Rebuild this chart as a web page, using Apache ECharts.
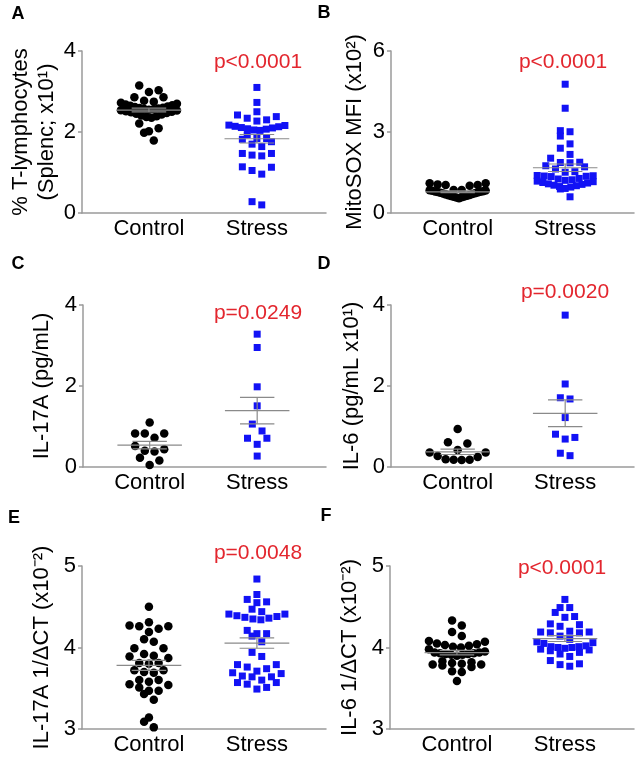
<!DOCTYPE html>
<html>
<head>
<meta charset="utf-8">
<script src="https://cdn.jsdelivr.net/npm/echarts@6/dist/echarts.min.js"></script>
<style>
html, body { margin: 0; padding: 0; background: #fff; }
#chart { width: 638px; height: 761px; }
</style>
</head>
<body>
<div id="chart"></div>
<script>
var groups = ['Control', 'Stress'];

// A - % T-lymphocytes (Splenc; x10^1)
var tcellControl = [3.15, 3.03, 2.99, 2.86, 2.86, 2.77, 2.75, 2.72, 2.70, 2.68, 2.66, 2.65, 2.63, 2.62, 2.60,
    2.59, 2.58, 2.57, 2.56, 2.55, 2.54, 2.53, 2.51, 2.50, 2.49, 2.47, 2.45, 2.43, 2.41, 2.39, 2.37, 2.35,
    2.21, 2.09, 2.02, 1.98, 1.79];
var tcellStress = [3.10, 2.73, 2.50, 2.42, 2.38, 2.34, 2.30, 2.27, 2.17, 2.16, 2.14, 2.13, 2.11, 2.10, 2.08,
    2.07, 2.05, 2.04, 1.93, 1.84, 1.84, 1.82, 1.76, 1.70, 1.64, 1.47, 1.47, 1.43, 1.41, 1.14, 1.13, 1.05,
    0.96, 0.28, 0.20];

// B - MitoSOX MFI (x10^2)
var mitoControl = [1.10, 1.10, 1.06, 1.04, 1.04, 1.01, 0.85, 0.85, 0.84, 0.83, 0.82, 0.81, 0.80, 0.79, 0.78,
    0.76, 0.75, 0.73, 0.72, 0.70, 0.69, 0.67, 0.66, 0.64, 0.63, 0.61, 0.60, 0.58, 0.57, 0.55];
var mitoStress = [4.77, 3.88, 3.05, 3.01, 2.85, 2.56, 2.40, 2.17, 2.03, 1.88, 1.87, 1.86, 1.75, 1.71, 1.63,
    1.53, 1.51, 1.39, 1.38, 1.37, 1.36, 1.35, 1.28, 1.26, 1.23, 1.21, 1.18, 1.16, 1.13, 1.11, 1.08, 1.06,
    1.03, 1.01, 0.98, 0.96, 0.91, 0.89, 0.60];

// C - IL-17A (pg/mL)
var il17Control = [1.10, 0.83, 0.83, 0.83, 0.72, 0.52, 0.44, 0.40, 0.38, 0.23, 0.16, 0.05];
var il17Stress = [3.28, 2.95, 1.98, 1.51, 1.06, 0.89, 0.71, 0.71, 0.56, 0.27];

// D - IL-6 (pg/mL x10^1)
var il6Control = [0.94, 0.61, 0.58, 0.42, 0.36, 0.36, 0.27, 0.25, 0.19, 0.18, 0.18, 0.17];
var il6Stress = [3.75, 2.05, 1.71, 1.68, 1.22, 0.81, 0.73, 0.69, 0.34, 0.28];

// E - IL-17A 1/dCT (x10^-2)
var il17dctControl = [4.50, 4.31, 4.27, 4.26, 4.26, 4.23, 4.19, 4.10, 4.07, 3.99, 3.99, 3.92, 3.90, 3.89, 3.87,
    3.81, 3.81, 3.80, 3.72, 3.72, 3.70, 3.69, 3.60, 3.60, 3.58, 3.55, 3.54, 3.51, 3.47, 3.47, 3.43, 3.36,
    3.14, 3.09, 3.02];
var il17dctStress = [4.84, 4.65, 4.59, 4.56, 4.55, 4.47, 4.44, 4.41, 4.41, 4.39, 4.38, 4.37, 4.36, 4.35, 4.34,
    4.21, 4.17, 4.17, 4.14, 4.07, 3.94, 3.89, 3.79, 3.79, 3.76, 3.74, 3.71, 3.69, 3.68, 3.65, 3.64, 3.64,
    3.60, 3.57, 3.57, 3.55, 3.51, 3.49];

// F - IL-6 1/dCT (x10^-2)
var il6dctControl = [4.33, 4.27, 4.19, 4.14, 4.08, 4.07, 4.05, 4.04, 4.03, 4.02, 4.01, 4.00, 3.98, 3.95, 3.94,
    3.94, 3.93, 3.93, 3.92, 3.92, 3.91, 3.91, 3.90, 3.83, 3.82, 3.81, 3.80, 3.79, 3.79, 3.78, 3.76, 3.71,
    3.70, 3.59];
var il6dctStress = [4.59, 4.49, 4.49, 4.43, 4.38, 4.37, 4.29, 4.28, 4.26, 4.20, 4.19, 4.19, 4.18, 4.18, 4.14,
    4.10, 4.07, 4.06, 4.05, 4.02, 4.01, 4.01, 4.00, 4.00, 3.99, 3.98, 3.97, 3.96, 3.94, 3.92, 3.89, 3.84,
    3.80, 3.79, 3.77];

var FONT = '"Liberation Sans", Arial, Helvetica, sans-serif';
var RED = '#e3262e';
var XMIN = 0.38, XMAX = 2.64;
var ROW_H = 8, STEP = 9.7, MAX_W = 56;

var panels = [
    { letter: 'A', lx: 18, ly: 14, left: 82, top: 51, width: 244, height: 162, min: 0, max: 4, interval: 2,
      name: '% T-lymphocytes\n(Splenc; x10\u00b9)', gap: 20, control: tcellControl, stress: tcellStress,
      p: 'p<0.0001', px: 258, py: 62 },
    { letter: 'B', lx: 324, ly: 13, left: 391, top: 51, width: 243, height: 162, min: 0, max: 6, interval: 3,
      name: 'MitoSOX MFI (x10\u00b2)', gap: 23, control: mitoControl, stress: mitoStress,
      p: 'p<0.0001', px: 563, py: 62 },
    { letter: 'C', lx: 18, ly: 264, left: 83, top: 305, width: 243, height: 162, min: 0, max: 4, interval: 2,
      name: 'IL-17A (pg/mL)', gap: 28, control: il17Control, stress: il17Stress,
      p: 'p=0.0249', px: 258, py: 313 },
    { letter: 'D', lx: 324, ly: 264, left: 391, top: 305, width: 243, height: 162, min: 0, max: 4, interval: 2,
      name: 'IL-6 (pg/mL x10\u00b9)', gap: 26, control: il6Control, stress: il6Stress,
      p: 'p=0.0020', px: 565, py: 292 },
    { letter: 'E', lx: 14, ly: 518, left: 82, top: 566, width: 244, height: 163, min: 3, max: 5, interval: 1,
      name: 'IL-17A 1/\u0394CT (x10\u207b\u00b2)', gap: 27, control: il17dctControl, stress: il17dctStress,
      p: 'p=0.0048', px: 258, py: 553 },
    { letter: 'F', lx: 326, ly: 516, left: 390, top: 566, width: 244, height: 163, min: 3, max: 5, interval: 1,
      name: 'IL-6 1/\u0394CT (x10\u207b\u00b2)', gap: 27, control: il6dctControl, stress: il6dctStress,
      p: 'p<0.0001', px: 562, py: 568 }
];

// prism-like column scatter: close values share a row, spread out from the centre
function swarm(values, pxPerY, pxPerX) {
    var idx = values.map(function (v, i) { return i; });
    idx.sort(function (a, b) { return values[a] - values[b]; });
    var rows = [], cur = [];
    idx.forEach(function (i) {
        if (cur.length && (values[i] - values[cur[0]]) * pxPerY > ROW_H) {
            rows.push(cur);
            cur = [];
        }
        cur.push(i);
    });
    if (cur.length) rows.push(cur);
    var offs = [];
    rows.forEach(function (row) {
        var n = row.length;
        var step = n > 1 ? Math.min(STEP, MAX_W / (n - 1)) : 0;
        var slots = [];
        for (var k = 0; k < n; k++) slots.push((k - (n - 1) / 2) * step);
        slots.sort(function (a, b) { return Math.abs(a) - Math.abs(b) || b - a; });
        row.forEach(function (i, j) { offs[i] = slots[j] / pxPerX; });
    });
    return offs;
}

function meanSem(values) {
    var n = values.length, m = 0, s = 0;
    values.forEach(function (v) { m += v; });
    m /= n;
    values.forEach(function (v) { s += (v - m) * (v - m); });
    return [m, Math.sqrt(s / (n - 1)) / Math.sqrt(n)];
}

function renderStats(params, api) {
    var x = api.value(0), m = api.value(1), s = api.value(2);
    var st = { stroke: '#8a8a8a', lineWidth: 1.2 };
    function seg(a, b) {
        var p1 = api.coord(a), p2 = api.coord(b);
        return { type: 'line', shape: { x1: p1[0], y1: p1[1], x2: p2[0], y2: p2[1] }, style: st };
    }
    return {
        type: 'group',
        children: [
            seg([x - 0.3, m], [x + 0.3, m]),
            seg([x, m - s], [x, m + s]),
            seg([x - 0.16, m + s], [x + 0.16, m + s]),
            seg([x - 0.16, m - s], [x + 0.16, m - s])
        ]
    };
}

var grid = [], xAxis = [], yAxis = [], series = [], graphic = [];

panels.forEach(function (p, k) {
    grid.push({ left: p.left, top: p.top, width: p.width, height: p.height });
    xAxis.push({
        gridIndex: k, type: 'value', min: XMIN, max: XMAX,
        axisLine: { show: true, onZero: false, lineStyle: { color: '#9a9a9a', width: 1.5 } },
        axisTick: { show: false },
        splitLine: { show: false },
        axisLabel: {
            customValues: [1, 2],
            formatter: function (v) { return groups[Math.round(v) - 1]; },
            color: '#000', fontSize: 22, fontFamily: FONT, margin: 5
        }
    });
    yAxis.push({
        gridIndex: k, type: 'value', min: p.min, max: p.max, interval: p.interval,
        axisLine: { show: true, onZero: false, lineStyle: { color: '#9a9a9a', width: 1.5 } },
        axisTick: { show: true, length: 4, lineStyle: { color: '#9a9a9a', width: 1.5 } },
        splitLine: { show: false },
        axisLabel: { color: '#000', fontSize: 22, fontFamily: FONT, margin: 6 },
        name: p.name, nameLocation: 'middle', nameGap: p.gap,
        nameTextStyle: { color: '#000', fontSize: 22, fontFamily: FONT, lineHeight: 26 }
    });

    var pxPerY = p.height / (p.max - p.min);
    var pxPerX = p.width / (XMAX - XMIN);
    var offC = swarm(p.control, pxPerY, pxPerX);
    var offS = swarm(p.stress, pxPerY, pxPerX);

    series.push({
        type: 'scatter', xAxisIndex: k, yAxisIndex: k, symbol: 'circle', symbolSize: 8.5,
        itemStyle: { color: '#000', opacity: 1 },
        data: p.control.map(function (v, i) { return [1 + offC[i], v]; })
    });
    series.push({
        type: 'scatter', xAxisIndex: k, yAxisIndex: k, symbol: 'rect', symbolSize: 7,
        itemStyle: { color: '#1212f5', opacity: 1 },
        data: p.stress.map(function (v, i) { return [2 + offS[i], v]; })
    });
    var mc = meanSem(p.control), ms = meanSem(p.stress);
    series.push({
        type: 'custom', xAxisIndex: k, yAxisIndex: k, z: 5, clip: false,
        renderItem: renderStats,
        encode: { x: 0, y: 1 },
        data: [[1, mc[0], mc[1]], [2, ms[0], ms[1]]]
    });

    graphic.push({
        type: 'text', x: p.lx, y: p.ly,
        style: { text: p.letter, fill: '#000', font: 'bold 18px ' + FONT, align: 'center', verticalAlign: 'middle' }
    });
    graphic.push({
        type: 'text', x: p.px, y: p.py,
        style: { text: p.p, fill: RED, font: '21px ' + FONT, align: 'center', verticalAlign: 'middle' }
    });
});

var chart = echarts.init(document.getElementById('chart'));
chart.setOption({
    animation: false,
    backgroundColor: '#fff',
    grid: grid,
    xAxis: xAxis,
    yAxis: yAxis,
    series: series,
    graphic: graphic
});
</script>
</body>
</html>
